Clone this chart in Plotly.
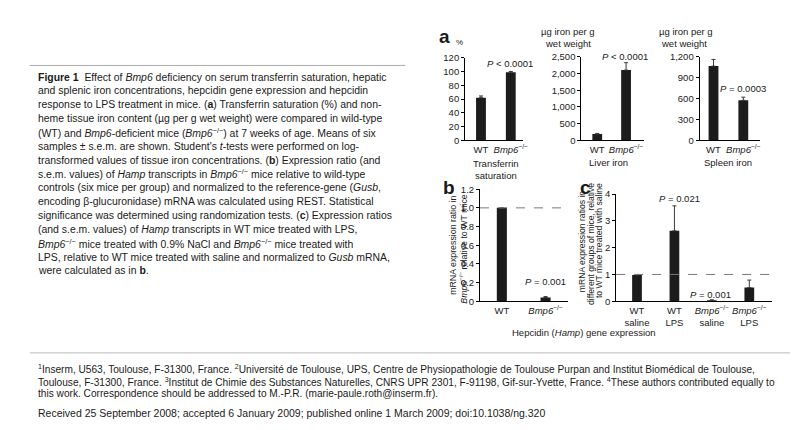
import plotly.graph_objects as go

# ---------------- data ----------------
geno_labels = ["WT", "<i>Bmp6</i><sup>−/−</sup>"]
ts_values = [62, 99]
ts_err = [2.5, 1]
liver_values = [190, 2100]
liver_err = [20, 220]
spleen_values = [1065, 575]
spleen_err = [95, 45]
hamp_labels = ["WT", "<i>Bmp6</i><sup>−/−</sup>"]
hamp_values = [1.0, 0.04]
hamp_err = [0.0, 0.01]
lps_labels = ["WT<br>saline", "WT<br>LPS", "<i>Bmp6</i><sup>−/−</sup><br>saline", "<i>Bmp6</i><sup>−/−</sup><br>LPS"]
lps_values = [0.98, 2.63, 0.04, 0.51]
lps_err = [0.0, 0.93, 0.01, 0.28]

ts_ticks = [0, 20, 40, 60, 80, 100, 120]
liver_ticks = [0, 500, 1000, 1500, 2000, 2500]
spleen_ticks = [0, 300, 600, 900, 1200]
hamp_ticks = [0, 0.2, 0.4, 0.6, 0.8, 1.0, 1.2]
hamp_ticktext = ["0", "0.2", "0.4", "0.6", "0.8", "1.0", "1.2"]
lps_ticks = [0, 1, 2, 3, 4]

caption_lines = [
    "<b>Figure 1</b>\u00a0 Effect of <i>Bmp6</i> deficiency on serum transferrin saturation, hepatic",
    "and splenic iron concentrations, hepcidin gene expression and hepcidin",
    "response to LPS treatment in mice. (<b>a</b>) Transferrin saturation (%) and non-",
    "heme tissue iron content (µg per g wet weight) were compared in wild-type",
    "(WT) and <i>Bmp6</i>-deficient mice (<i>Bmp6</i><sup>−/−</sup>) at 7 weeks of age. Means of six",
    "samples ± s.e.m. are shown. Student's <i>t</i>-tests were performed on log-",
    "transformed values of tissue iron concentrations. (<b>b</b>) Expression ratio (and",
    "s.e.m. values) of <i>Hamp</i> transcripts in <i>Bmp6</i><sup>−/−</sup> mice relative to wild-type",
    "controls (six mice per group) and normalized to the reference-gene (<i>Gusb</i>,",
    "encoding β-glucuronidase) mRNA was calculated using REST. Statistical",
    "significance was determined using randomization tests. (<b>c</b>) Expression ratios",
    "(and s.e.m. values) of <i>Hamp</i> transcripts in WT mice treated with LPS,",
    "<i>Bmp6</i><sup>−/−</sup> mice treated with 0.9% NaCl and <i>Bmp6</i><sup>−/−</sup> mice treated with",
    "LPS, relative to WT mice treated with saline and normalized to <i>Gusb</i> mRNA,",
    "were calculated as in <b>b</b>.",
]
footnote_lines = [
    "<sup>1</sup>Inserm, U563, Toulouse, F-31300, France. <sup>2</sup>Université de Toulouse, UPS, Centre de Physiopathologie de Toulouse Purpan and Institut Biomédical de Toulouse,",
    "Toulouse, F-31300, France. <sup>3</sup>Institut de Chimie des Substances Naturelles, CNRS UPR 2301, F-91198, Gif-sur-Yvette, France. <sup>4</sup>These authors contributed equally to",
    "this work. Correspondence should be addressed to M.-P.R. (marie-paule.roth@inserm.fr).",
]
received_line = "Received 25 September 2008; accepted 6 January 2009; published online 1 March 2009; doi:10.1038/ng.320"

# ---------------- helpers ----------------
W, H = 800, 430
FONT = "Liberation Sans, Arial, Helvetica, sans-serif"
TXT = "#1a1a1a"
BAR = "#1c1c1c"
TICKF = dict(family=FONT, size=9.5, color=TXT)


def px(x):
    return x / W


def py(y):
    return 1 - y / H


def xaxis(left, right, p0, step, labels, anchor):
    return dict(domain=[px(left), px(right)],
                range=[(left - p0) / step, (right - p0) / step],
                tickvals=list(range(len(labels))), ticktext=labels,
                showline=True, linecolor="black", linewidth=1, ticks="",
                showgrid=False, zeroline=False, tickfont=TICKF, anchor=anchor,
                fixedrange=True)


def yaxis(top, bottom, rng, tickvals, ticktext, anchor, fmt=None):
    d = dict(domain=[py(bottom), py(top)], range=rng, tickvals=tickvals,
             showline=True, linecolor="black", linewidth=1, ticks="outside",
             ticklen=3, tickwidth=1, tickcolor="black",
             showgrid=False, zeroline=False, tickfont=TICKF, anchor=anchor,
             fixedrange=True)
    if ticktext is not None:
        d["ticktext"] = ticktext
    if fmt:
        d["tickformat"] = fmt
    return d


def bars(vals, errs, xa, ya, width):
    return go.Bar(x=list(range(len(vals))), y=vals, xaxis=xa, yaxis=ya,
                  width=width, marker=dict(color=BAR, line=dict(width=0)),
                  error_y=dict(type="data", array=errs, arrayminus=[0] * len(errs),
                               symmetric=False, color="#3a3a3a", thickness=1, width=2),
                  hoverinfo="skip")


fig = go.Figure()
fig.add_trace(bars(ts_values, ts_err, "x", "y", 0.33))
fig.add_trace(bars(liver_values, liver_err, "x2", "y2", 0.34))
fig.add_trace(bars(spleen_values, spleen_err, "x3", "y3", 0.33))
fig.add_trace(bars(hamp_values, hamp_err, "x4", "y4", 0.23))
fig.add_trace(bars(lps_values, lps_err, "x5", "y5", 0.26))

fig.update_layout(
    width=W, height=H, margin=dict(l=0, r=0, t=0, b=0),
    paper_bgcolor="white", plot_bgcolor="white", showlegend=False,
    font=dict(family=FONT, color=TXT),
    xaxis=xaxis(468, 526, 484, 30, geno_labels, "y"),
    yaxis=yaxis(53, 138, [0, 120], ts_ticks, None, "x"),
    xaxis2=xaxis(585, 648, 601, 29, geno_labels, "y2"),
    yaxis2=yaxis(52, 138, [0, 2500], liver_ticks, None, "x2", ",d"),
    xaxis3=xaxis(704, 765, 718, 30, geno_labels, "y3"),
    yaxis3=yaxis(52, 138, [0, 1200], spleen_ticks, None, "x3", ",d"),
    xaxis4=xaxis(483, 572, 505, 44, hamp_labels, "y4"),
    yaxis4=yaxis(188, 303, [0, 1.2], hamp_ticks, hamp_ticktext, "x4"),
    xaxis5=xaxis(620, 777, 641, 37.67, lps_labels, "y5"),
    yaxis5=yaxis(193, 303, [0, 4], lps_ticks, None, "x5"),
)

# reference lines at ratio = 1
fig.add_shape(type="line", xref="x4 domain", yref="y4", x0=0, x1=0.98, y0=1, y1=1,
              line=dict(color="#777", width=1, dash="dash"))
fig.add_shape(type="line", xref="x5 domain", yref="y5", x0=0, x1=1.03, y0=1, y1=1,
              line=dict(color="#777", width=1, dash="dash"))

# rules
fig.add_shape(type="line", xref="paper", yref="paper", x0=px(30), x1=px(408),
              y0=py(61), y1=py(61), line=dict(color="#aaaaaa", width=1))
fig.add_shape(type="line", xref="paper", yref="paper", x0=px(30), x1=px(795),
              y0=py(356), y1=py(356), line=dict(color="#bbbbbb", width=1))


def txt(x, y, s, size=9.5, xanchor="center", angle=0):
    fig.add_annotation(x=px(x), y=py(y), xref="paper", yref="paper", text=s,
                       showarrow=False, xanchor=xanchor, yanchor="middle",
                       textangle=angle, font=dict(family=FONT, size=size, color=TXT))


# panel letters
txt(447, 31, "<b>a</b>", 19)
txt(452, 186, "<b>b</b>", 19)
txt(589, 186, "<b>c</b>", 19)

# units
txt(462, 37, "%", 8)
txt(572, 26, "µg iron per g", 9.5)
txt(572, 38, "wet weight", 9.5)
txt(690, 26, "µg iron per g", 9.5)
txt(688, 38, "wet weight", 9.5)

# P values
txt(513, 59, "<i>P</i> < 0.0001", 9.5)
txt(629, 52, "<i>P</i> < 0.0001", 9.5)
txt(748, 85, "<i>P</i> = 0.0003", 9.5)
txt(549, 283, "<i>P</i> = 0.001", 9.5)
txt(684, 198, "<i>P</i> = 0.021", 9.5)
txt(715, 296, "<i>P</i> = 0.001", 9.5)

# group labels
txt(499, 162, "Transferrin", 9.5)
txt(499, 174, "saturation", 9.5)
txt(612, 161, "Liver iron", 9.5)
txt(733, 161, "Spleen iron", 9.5)
txt(588, 335, "Hepcidin (<i>Hamp</i>) gene expression", 9.5)

# y titles (rotated)
txt(456, 246, "mRNA expression ratio in", 8.8, angle=-90)
txt(466, 249, "<i>Bmp6</i><sup>−/−</sup> relative to WT mice", 8.8, angle=-90)
txt(585, 242, "mRNA expression ratios in", 8.6, angle=-90)
txt(594, 244, "different groups of mice, relative", 8.6, angle=-90)
txt(603, 241, "to WT mice treated with saline", 8.6, angle=-90)

# caption
for i, line in enumerate(caption_lines):
    txt(36, 73 + 14.2 * i, line, 10.45, xanchor="left")

# footnotes
for i, line in enumerate(footnote_lines):
    txt(36, 373 + 12.5 * i, line, 10.15, xanchor="left")
txt(36, 418, received_line, 10.5, xanchor="left")

fig.write_html("out.html",
               config={"displayModeBar": False, "staticPlot": True},
               post_script="document.body.style.margin='0px';document.body.style.overflow='hidden';")
